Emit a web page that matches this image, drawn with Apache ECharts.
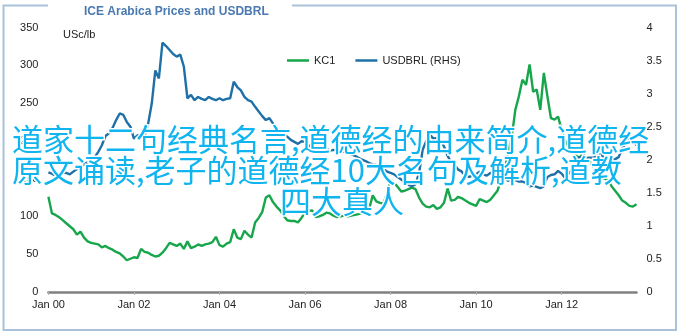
<!DOCTYPE html>
<html><head><meta charset="utf-8">
<script src="https://cdn.jsdelivr.net/npm/echarts@6/dist/echarts.min.js"></script>
<style>html,body{margin:0;padding:0;background:#fff}#c{width:683px;height:333px}</style>
</head><body><div id="c"></div>
<script>
// Monthly data, Jan 2000 .. Oct 2013
const startYear = 2000;
const tickLabels = ['Jan 00','Jan 02','Jan 04','Jan 06','Jan 08','Jan 10','Jan 12'];
const leftTicks = [0,50,100,150,200,250,300,350];
const rightTicks = [0,0.5,1,1.5,2,2.5,3,3.5,4];
const kc1 = [
 126,104,102,99,95,91,87,83,76,80,72,67,
 65,64,63,59,61,58,56,53,51,47,42,44,
 46,45,57,53,52,49,47,48,52,58,65,63,
 61,64,57,67,58,60,63,61,63,64,66,73,
 62,60,64,66,83,72,70,81,76,72,92,98,
 106,125,128,119,113,108,101,95,94,94,92,98,
 105,107,108,99,100,102,105,104,101,99,100,101,
 100,101,102,103,105,103,110,128,120,118,117,130,
 148,145,139,133,134,136,138,136,125,117,113,112,
 115,110,112,118,137,121,122,126,124,121,118,116,
 114,123,121,119,122,128,134,148,161,185,205,241,
 259,281,274,301,265,268,241,290,259,230,228,232,
 214,200,192,194,180,178,183,176,172,165,161,152,
 150,148,140,134,128,121,118,114,113,116
];
const usdbrl = [
 1.81,1.79,1.76,1.78,1.81,1.80,1.78,1.82,1.86,1.89,1.93,1.96,
 1.98,2.04,2.12,2.22,2.36,2.40,2.48,2.60,2.70,2.68,2.57,2.50,
 2.32,2.37,2.36,2.37,2.55,2.85,3.35,3.23,3.77,3.72,3.66,3.60,
 3.56,3.59,3.41,2.93,2.98,2.90,2.95,2.92,2.90,2.95,2.92,2.90,
 2.93,2.90,2.92,2.93,3.18,3.10,3.05,2.95,2.90,2.88,2.80,2.73,
 2.66,2.60,2.63,2.55,2.47,2.40,2.37,2.35,2.30,2.27,2.24,2.28,
 2.27,2.22,2.18,2.15,2.14,2.17,2.16,2.14,2.15,2.14,2.13,2.12,
 2.11,2.08,2.06,2.03,2.00,1.98,1.95,1.93,1.92,1.89,1.86,1.82,
 1.80,1.78,1.74,1.70,1.66,1.62,1.60,1.63,1.80,2.15,2.28,2.38,
 2.32,2.33,2.30,2.20,2.06,1.96,1.92,1.85,1.82,1.75,1.74,1.76,
 1.78,1.82,1.78,1.76,1.80,1.80,1.76,1.76,1.72,1.68,1.71,1.69,
 1.67,1.67,1.65,1.60,1.61,1.59,1.57,1.60,1.74,1.77,1.78,1.83,
 1.79,1.72,1.79,1.86,1.98,2.04,2.03,2.03,2.03,2.03,2.07,2.08,
 2.03,1.97,1.99,2.01,2.04,2.17,2.25,2.38,2.27,2.22
];
const overlayLines = [
 '道家十二句经典名言,道德经的由来简介,道德经',
 '原文诵读,老子的道德经10大名句及解析,道教',
 '四大真人'
];
const titleText = 'ICE Arabica Prices and USDBRL';
const unitText = 'USc/lb';
const seriesNames = ['KC1','USDBRL (RHS)'];

const FONT = '"Liberation Sans", Arial, sans-serif';
const tickVals = tickLabels.map((_, i) => i * 24);
const chart = echarts.init(document.getElementById('c'), null, {renderer: 'canvas'});
const frameColor = '#a9c1d9';
chart.setOption({
  animation: false,
  backgroundColor: '#fff',
  title: {
    text: titleText, left: 79, top: 1,
    textStyle: {fontFamily: FONT, fontSize: 12, fontWeight: 'bold', color: '#4a79b0'}
  },
  legend: {
    left: 282, top: 50, icon: 'rect', itemWidth: 22, itemHeight: 2.5, itemGap: 20,
    textStyle: {fontFamily: FONT, fontSize: 11, color: '#222'},
    data: seriesNames
  },
  grid: {left: 48.4, right: 46.5, top: 27.5, bottom: 41, containLabel: false},
  xAxis: {
    type: 'value', min: 0, max: kc1.length - 1, interval: 24,
    axisLine: {lineStyle: {color: '#808080', width: 2.5}},
    axisTick: {show: true, length: 3, customValues: tickVals, lineStyle: {color: '#b0b0b0', width: 1}},
    axisLabel: {customValues: tickVals, margin: 7, fontFamily: FONT, fontSize: 11, color: '#222',
      formatter: v => tickLabels[Math.round(v / 24)] || ''},
    splitLine: {show: false}
  },
  yAxis: [
    {type: 'value', min: 0, max: 350, interval: 50, position: 'left',
     axisLine: {show: false}, axisTick: {show: false}, splitLine: {show: false},
     axisLabel: {margin: 10, fontFamily: FONT, fontSize: 11, color: '#222'}},
    {type: 'value', min: 0, max: 4, interval: 0.5, position: 'right',
     axisLine: {show: false}, axisTick: {show: false}, splitLine: {show: false},
     axisLabel: {margin: 10, fontFamily: FONT, fontSize: 11, color: '#222'}}
  ],
  series: [
    {name: seriesNames[0], type: 'line', yAxisIndex: 0, showSymbol: false, symbol: 'none',
     data: kc1.map((v, i) => [i, v]), lineStyle: {color: '#17a64b', width: 2.4}, itemStyle: {color: '#17a64b'}},
    {name: seriesNames[1], type: 'line', yAxisIndex: 1, showSymbol: false, symbol: 'none',
     data: usdbrl.map((v, i) => [i, v]), lineStyle: {color: '#1f70a6', width: 2.4}, itemStyle: {color: '#1f70a6'}}
  ],
  graphic: [
    {type: 'polyline', silent: true, z: 1,
     shape: {points: [[48, 5.5], [3.5, 5.5], [3.5, 330], [676, 330], [676, 5.5], [292, 5.5]]},
     style: {stroke: frameColor, lineWidth: 2, fill: null}},
    {type: 'text', x: 63, y: 35, silent: true,
     style: {text: unitText, font: '11px ' + FONT, fill: '#222', textVerticalAlign: 'middle'}},
    {type: 'text', x: 12, y: 139, z: 100, silent: true,
     style: {text: overlayLines[0], font: '31px "Noto Sans CJK SC"', fill: '#10b4ef', stroke: '#fff', lineWidth: 3,
       textAlign: 'left', textVerticalAlign: 'middle'}},
    {type: 'text', x: 12, y: 170, z: 100, silent: true,
     style: {text: overlayLines[1], font: '31px "Noto Sans CJK SC"', fill: '#10b4ef', stroke: '#fff', lineWidth: 3,
       textAlign: 'left', textVerticalAlign: 'middle'}},
    {type: 'text', x: 342, y: 201, z: 100, silent: true,
     style: {text: overlayLines[2], font: '31px "Noto Sans CJK SC"', fill: '#10b4ef', stroke: '#fff', lineWidth: 3,
       textAlign: 'center', textVerticalAlign: 'middle'}}
  ]
});
</script></body></html>
